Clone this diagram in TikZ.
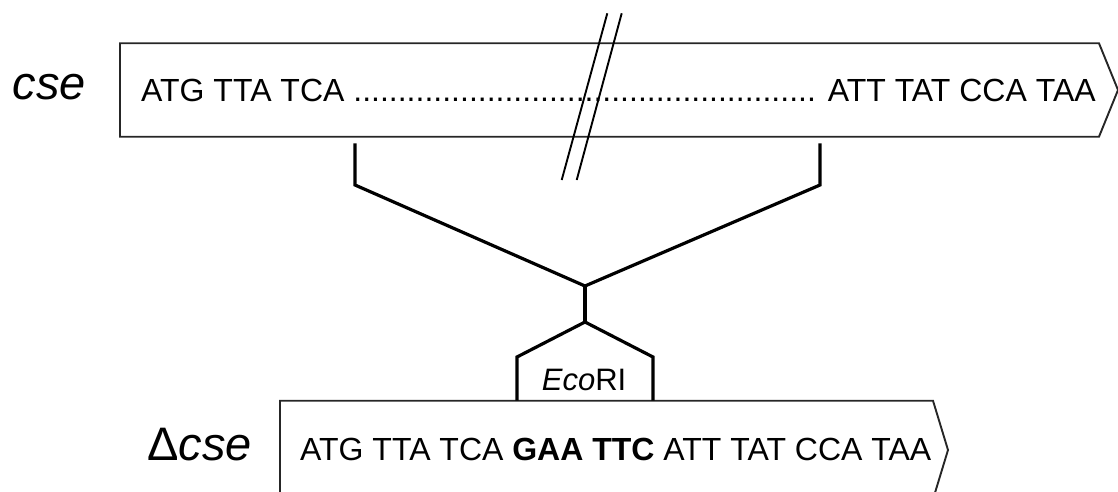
\documentclass[tikz,border=0pt]{standalone}
\usepackage{fontspec}
\setmainfont{Liberation Sans}
\begin{document}
\begin{tikzpicture}[x=1pt,y=-1pt,
  boxline/.style={draw=black!85, line width=1.9pt, line join=miter},
  conn/.style={draw=black, line width=3.2pt, line join=miter},
  brk/.style={draw=black, line width=1.9pt},
  seq/.style={anchor=base west, inner sep=0pt, font=\fontsize{32pt}{38pt}\selectfont},
  lab/.style={anchor=base west, inner sep=0pt, font=\fontsize{47pt}{56pt}\selectfont\itshape},
]
\useasboundingbox (0,0) rectangle (1118,492);
\clip (0,0) rectangle (1118,492);
% gene boxes
\draw[boxline] (120,43.3) -- (1099,43.3) -- (1118,90) -- (1099,136.7) -- (120,136.7) -- cycle;
\draw[boxline] (280,400.7) -- (933,400.7) -- (948,450) -- (933,499.3) -- (280,499.3) -- cycle;
% texts
\node[lab] (cse) at (12.5,100) {cse};
\node[lab] (dcse) at (147,460) {{\upshape Δ}cse};
\node[seq] (s1) at (141,101.7) {ATG TTA TCA .................................................... ATT TAT CCA TAA};
\node[seq] (s2) at (300,460) {ATG TTA TCA \textbf{GAA TTC} ATT TAT CCA TAA};
\node[seq, font=\fontsize{31pt}{36pt}\selectfont] (eco) at (541.7,390) {\textit{Eco}RI};
% break marks
\coordinate (b1a) at (607.3,13.3); \coordinate (b1b) at (561.7,180);
\coordinate (b2a) at (621.7,13.3); \coordinate (b2b) at (576.7,180);
\draw[brk] (b1a) -- (b1b);
\draw[brk] (b2a) -- (b2b);
% connectors
\coordinate (la) at (355,143.3); \coordinate (lb) at (355,185);
\coordinate (ra) at (820,143.3); \coordinate (rb) at (820,185);
\coordinate (j) at (585,286); \coordinate (jb) at (585,322);
\coordinate (el) at (517,357); \coordinate (er) at (653,357);
\coordinate (elb) at (517,400.7); \coordinate (erb) at (653,400.7);
\draw[conn] (la) -- (lb) -- (j) -- (rb) -- (ra);
\draw[conn] (j) -- (jb);
\draw[conn] (elb) -- (el) -- (jb) -- (er) -- (erb);
\end{tikzpicture}
\end{document}
